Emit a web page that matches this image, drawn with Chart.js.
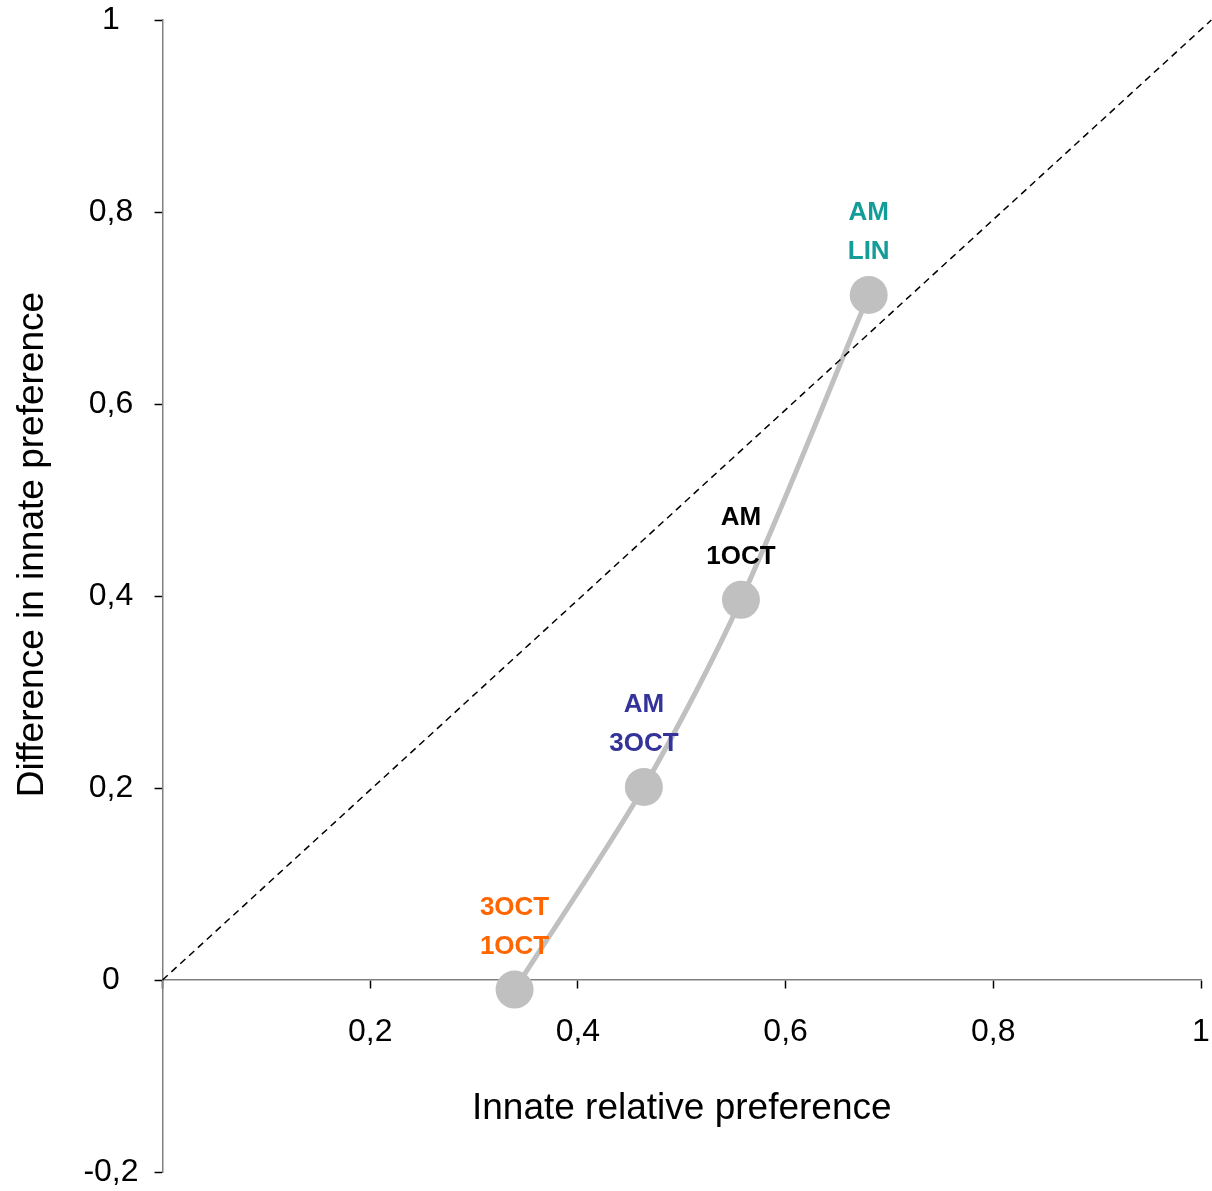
<!DOCTYPE html>
<html>
<head>
<meta charset="utf-8">
<script src="https://cdn.jsdelivr.net/npm/chart.js@4/dist/chart.umd.min.js"></script>
<style>
  body { margin: 0; background: #fff; }
  #wrap { width: 1212px; height: 1191px; }
</style>
</head>
<body>
<div id="wrap"><canvas id="prefChart"></canvas></div>
<script>
// odour pairs
var relPref = [0.339, 0.4635, 0.557, 0.680];
var diffPref = [-0.010, 0.201, 0.396, 0.7135];
var pairNames = [['3OCT', '1OCT'], ['AM', '3OCT'], ['AM', '1OCT'], ['AM', 'LIN']];
var pairColors = ['#FF6600', '#333399', '#000000', '#139C98'];

// dashed reference line
var diagX = [0, 1.01];
var diagY = [0, 1.0];

var fontFamily = "'Liberation Sans', Arial, sans-serif";

function toPoints(xs, ys) {
    return xs.map(function (x, i) { return {x: x, y: ys[i]}; });
}

function commaLabel(v) {
    return Number(v.toFixed(1)).toString().replace('.', ',');
}

var pairLabels = {
    id: 'pairLabels',
    afterDatasetsDraw: function (chart) {
        var meta = chart.getDatasetMeta(1);
        var ctx = chart.ctx;
        ctx.save();
        ctx.font = 'bold 26px ' + fontFamily;
        ctx.textAlign = 'center';
        ctx.textBaseline = 'middle';
        meta.data.forEach(function (pt, i) {
            ctx.fillStyle = pairColors[i];
            ctx.fillText(pairNames[i][0], pt.x, pt.y - 82);
            ctx.fillText(pairNames[i][1], pt.x, pt.y - 43);
        });
        ctx.restore();
    }
};

var ctx = document.getElementById('prefChart').getContext('2d');

var data = {
    datasets: [{
        data: toPoints(diagX, diagY),
        borderColor: '#000000',
        borderWidth: 1.5,
        borderDash: [7, 5],
        pointRadius: 0,
        fill: false,
        clip: false,
        order: 0
    }, {
        data: toPoints(relPref, diffPref),
        borderColor: '#C0C0C0',
        borderWidth: 5,
        tension: 0.3,
        pointRadius: 19,
        pointBackgroundColor: '#C0C0C0',
        pointBorderWidth: 0,
        fill: false,
        clip: false,
        order: 1
    }]
};

var options = {
    responsive: true,
    maintainAspectRatio: false,
    animation: false,
    events: [],
    layout: {
        autoPadding: false,
        padding: {left: 0, right: 11, top: 20, bottom: 19}
    },
    plugins: {
        legend: {display: false},
        tooltip: {enabled: false}
    },
    scales: {
        x: {
            type: 'linear',
            position: {y: 0},
            min: 0,
            max: 1,
            afterFit: function (s) { s.paddingLeft = 0; s.paddingRight = 0; },
            border: {display: true, color: '#808080', width: 1.5},
            grid: {drawOnChartArea: false, drawTicks: true, tickLength: 8, tickColor: '#000000', tickWidth: 1.5},
            ticks: {
                stepSize: 0.2,
                padding: 25,
                color: '#000000',
                font: {family: fontFamily, size: 32},
                maxRotation: 0,
                callback: function (v) { return v === 0 ? '' : commaLabel(v); }
            },
            title: {
                display: true,
                text: 'Innate relative preference',
                color: '#000000',
                font: {family: fontFamily, size: 37},
                padding: {top: 10, bottom: 0}
            }
        },
        y: {
            type: 'linear',
            position: 'left',
            min: -0.2,
            max: 1,
            afterFit: function (s) { s.paddingTop = 0; s.paddingBottom = 0; },
            border: {display: true, color: '#808080', width: 1.5},
            grid: {drawOnChartArea: false, drawTicks: true, tickLength: 8, tickColor: '#000000', tickWidth: 1.5},
            ticks: {
                stepSize: 0.2,
                padding: 16,
                crossAlign: 'center',
                color: '#000000',
                font: {family: fontFamily, size: 32},
                callback: function (v) { return commaLabel(v); }
            },
            title: {
                display: true,
                // leading spaces lift the title the way the original sits above centre
                text: '\u00a0\u00a0\u00a0\u00a0\u00a0\u00a0\u00a0\u00a0\u00a0\u00a0Difference in innate preference',
                color: '#000000',
                font: {family: fontFamily, size: 37},
                padding: {top: 11, bottom: 12}
            }
        }
    }
};

var prefChart = new Chart(ctx, {
    type: 'line',
    data: data,
    options: options,
    plugins: [pairLabels]
});
</script>
</body>
</html>
